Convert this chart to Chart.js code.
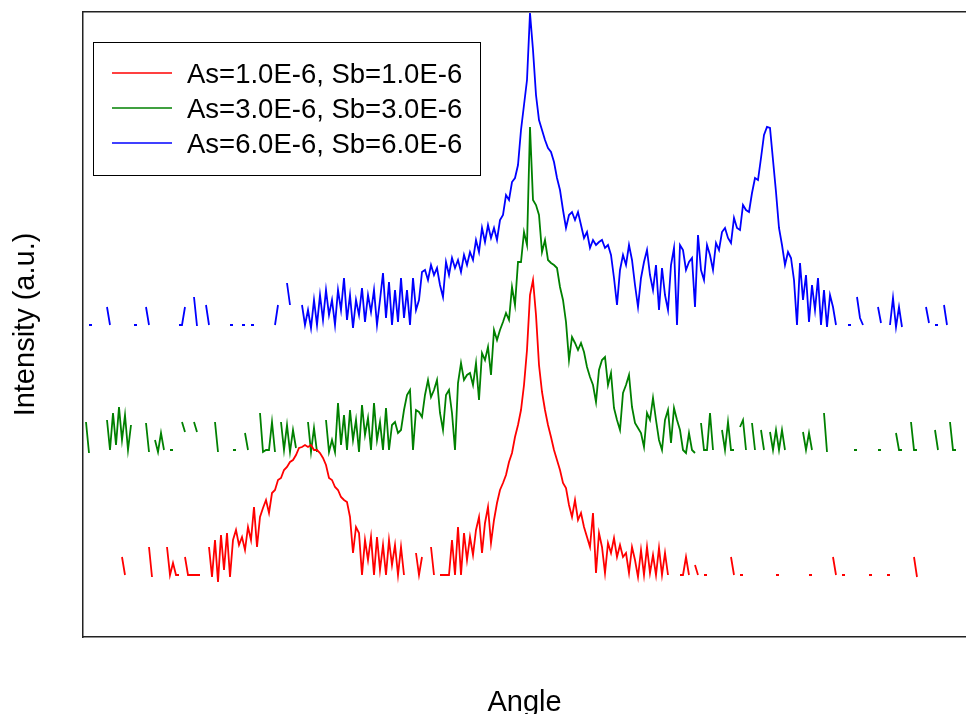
<!DOCTYPE html>
<html><head><meta charset="utf-8">
<script src="https://cdn.jsdelivr.net/npm/chart.js@4/dist/chart.umd.min.js"></script>
<style>html,body{margin:0;padding:0;background:#fff;overflow:hidden}#wrap{width:966px;height:714px}</style>
</head><body><div id="wrap"><canvas id="c" width="966" height="714"></canvas></div>
<script>
const N = null;
// angle grid (arbitrary units), one sample every angleStep
const angleStart = 3, angleStep = 3;
const seriesLabels = ['As=1.0E-6, Sb=1.0E-6', 'As=3.0E-6, Sb=3.0E-6', 'As=6.0E-6, Sb=6.0E-6'];
const xTitle = 'Angle';
const yTitle = 'Intensity (a.u.)';

// log-intensity with vertical offsets (a.u.); null = no counts
const red = [
N,N,N,N,N,N,N,N,N,N,
N,N,80,62,N,N,N,N,N,N,
N,90,60,N,N,N,N,90,62,74,
62,62,N,80,62,62,62,62,62,N,
N,90,60,97,55,102,67,104,60,97,
107,92,100,87,110,97,130,90,120,129,
137,124,144,147,157,159,167,170,175,177,
182,189,190,192,190,192,187,187,184,179,
172,159,157,150,147,140,137,135,120,84,
110,104,62,97,77,100,62,100,67,92,
62,97,72,92,62,90,62,N,N,N,
84,62,80,N,N,90,62,N,62,62,
62,62,97,62,110,62,104,77,100,82,
107,120,84,114,130,94,117,134,147,154,
162,175,184,200,212,227,252,287,342,357,
322,272,245,227,212,200,187,177,167,154,
149,132,120,137,117,124,110,100,90,124,
64,104,90,64,94,84,99,80,92,80,
84,64,90,77,60,87,62,90,64,82,
62,89,62,84,62,N,N,N,62,62,
80,62,N,72,62,N,62,62,N,N,
N,N,N,N,N,80,62,N,62,62,
N,N,N,N,N,N,N,N,N,N,
62,62,N,N,N,N,N,N,N,N,
N,62,62,N,N,N,N,N,N,80,
62,N,62,62,N,N,N,N,N,N,
N,62,62,N,N,N,N,62,62,N,
N,N,N,N,N,N,80,60,N,N,
N,N,N,N,N,N,N,N,N,N,
N,N,N,N
];
const green = [
215,184,N,N,N,N,N,217,187,224,
192,230,197,222,187,212,N,N,N,N,
214,185,N,197,185,204,187,N,187,187,
N,N,215,205,N,N,215,205,N,N,
N,N,N,215,185,N,N,N,N,187,
187,N,N,204,187,N,N,N,224,185,
187,187,215,185,N,215,187,212,185,207,
189,N,N,N,215,185,209,185,N,N,
217,185,197,185,234,192,222,187,227,197,
217,185,232,202,219,187,234,197,215,187,
229,187,212,215,204,207,227,242,247,187,
227,225,220,242,257,240,247,257,224,207,
242,247,224,187,254,274,257,262,264,252,
274,237,284,277,290,262,307,297,307,315,
324,317,350,332,375,375,405,392,510,437,
432,422,385,397,377,374,372,369,350,337,
315,277,300,294,287,294,285,270,260,252,
235,267,277,280,252,264,229,217,207,244,
252,262,230,214,209,204,190,224,217,239,
217,197,187,217,227,194,229,217,207,187,
184,204,187,184,N,214,187,187,224,187,
N,N,207,187,215,187,187,N,210,217,
187,N,214,187,N,207,187,N,205,187,
207,187,207,187,N,N,N,N,N,205,
187,204,187,N,N,N,224,185,N,N,
N,N,N,N,N,N,187,187,N,N,
N,N,N,N,187,187,N,N,N,N,
204,187,187,N,N,215,187,187,N,N,
N,N,N,207,187,N,N,N,215,187,
187,N,N,N
];
const blue = [
N,312,312,N,N,N,N,330,312,N,
N,N,N,N,N,N,312,312,N,N,
330,312,N,N,N,N,N,N,N,N,
N,312,312,330,N,N,340,311,N,N,
332,312,N,N,N,N,N,N,312,312,
N,N,312,312,N,312,312,N,N,N,
N,N,N,312,332,N,N,354,332,N,
N,N,332,312,327,309,337,312,342,317,
347,322,337,312,347,327,359,317,342,309,
337,322,349,315,342,325,347,312,337,364,
319,355,312,347,315,359,319,347,312,359,
327,337,365,367,357,372,362,369,352,340,
375,362,379,369,377,365,382,372,385,377,
397,385,409,395,412,399,409,397,417,422,
442,437,455,459,472,507,532,557,624,587,
542,517,507,497,489,485,475,459,447,427,
409,422,425,417,425,412,399,405,389,397,
392,395,397,389,392,382,359,332,367,382,
372,392,377,352,330,359,375,387,362,347,
372,327,369,342,327,372,389,312,392,387,
367,375,379,330,402,367,357,392,382,367,
394,387,405,409,399,394,419,409,407,432,
427,425,444,459,457,479,502,510,509,477,
445,409,392,372,385,379,357,312,374,337,
362,315,352,327,359,312,347,310,342,330,
312,N,N,N,312,312,N,340,319,312,
N,N,N,N,330,314,N,N,312,339,
310,330,310,N,N,N,N,N,N,N,
330,314,N,312,312,N,332,312,N,N,
N,N,N,N
];
const seriesValues = [red, green, blue];
const seriesColors = ['#ff0000', '#008000', '#0000ff'];

const angles = red.map((_, i) => angleStart + i * angleStep);
const toPoints = vals => vals.map((v, i) => ({ x: angles[i], y: v }));

const FONT = "'Liberation Sans', Arial, sans-serif";

const frameLegend = {
  id: 'frameLegend',
  afterDatasetsDraw(chart) {
    const { ctx, chartArea } = chart;
    const bx = chartArea.left + 10.5, by = chartArea.top + 30.5, bw = 387, bh = 133;
    ctx.save();
    ctx.fillStyle = '#fff';
    ctx.fillRect(bx, by, bw, bh);
    ctx.strokeStyle = '#000';
    ctx.lineWidth = 1;
    ctx.strokeRect(bx, by, bw, bh);
    ctx.font = '27.5px ' + FONT;
    ctx.textBaseline = 'alphabetic';
    ctx.textAlign = 'left';
    chart.data.datasets.forEach((ds, i) => {
      const ly = chartArea.top + 61 + i * 35;
      ctx.strokeStyle = ds.borderColor;
      ctx.lineWidth = 1.5;
      ctx.beginPath();
      ctx.moveTo(chartArea.left + 29, ly);
      ctx.lineTo(chartArea.left + 89, ly);
      ctx.stroke();
      ctx.fillStyle = '#000';
      ctx.fillText(ds.label, chartArea.left + 104, ly + 10);
    });
    ctx.restore();
  }
};

const borderOpt = { display: true, color: '#222', width: 1.5 };

new Chart(document.getElementById('c'), {
  type: 'line',
  data: {
    datasets: seriesValues.map((vals, i) => ({
      label: seriesLabels[i],
      data: toPoints(vals),
      borderColor: seriesColors[i],
      backgroundColor: seriesColors[i],
      borderWidth: 1.8,
      pointRadius: 0,
      tension: 0,
      spanGaps: false
    }))
  },
  options: {
    responsive: false,
    animation: false,
    layout: { padding: 0 },
    plugins: { legend: { display: false }, tooltip: { enabled: false } },
    scales: {
      x: {
        type: 'linear', position: 'bottom', min: 0, max: 883,
        ticks: { display: false }, grid: { display: false }, border: borderOpt,
        title: { display: true, text: xTitle, color: '#000', font: { family: FONT, size: 29 }, padding: { top: 0, bottom: -6 } },
        afterFit(s) { s.height = 77; }
      },
      xTop: {
        axis: 'x', type: 'linear', position: 'top', min: 0, max: 1,
        ticks: { display: false }, grid: { display: false }, border: borderOpt,
        afterFit(s) { s.height = 12; }
      },
      y: {
        type: 'linear', position: 'left', min: 0, max: 625,
        ticks: { display: false }, grid: { display: false }, border: borderOpt,
        title: { display: true, text: yTitle, color: '#000', font: { family: FONT, size: 29 }, padding: { top: 9, bottom: 0 } },
        afterFit(s) { s.width = 83; }
      }
    }
  },
  plugins: [frameLegend]
});
</script>
</body></html>
